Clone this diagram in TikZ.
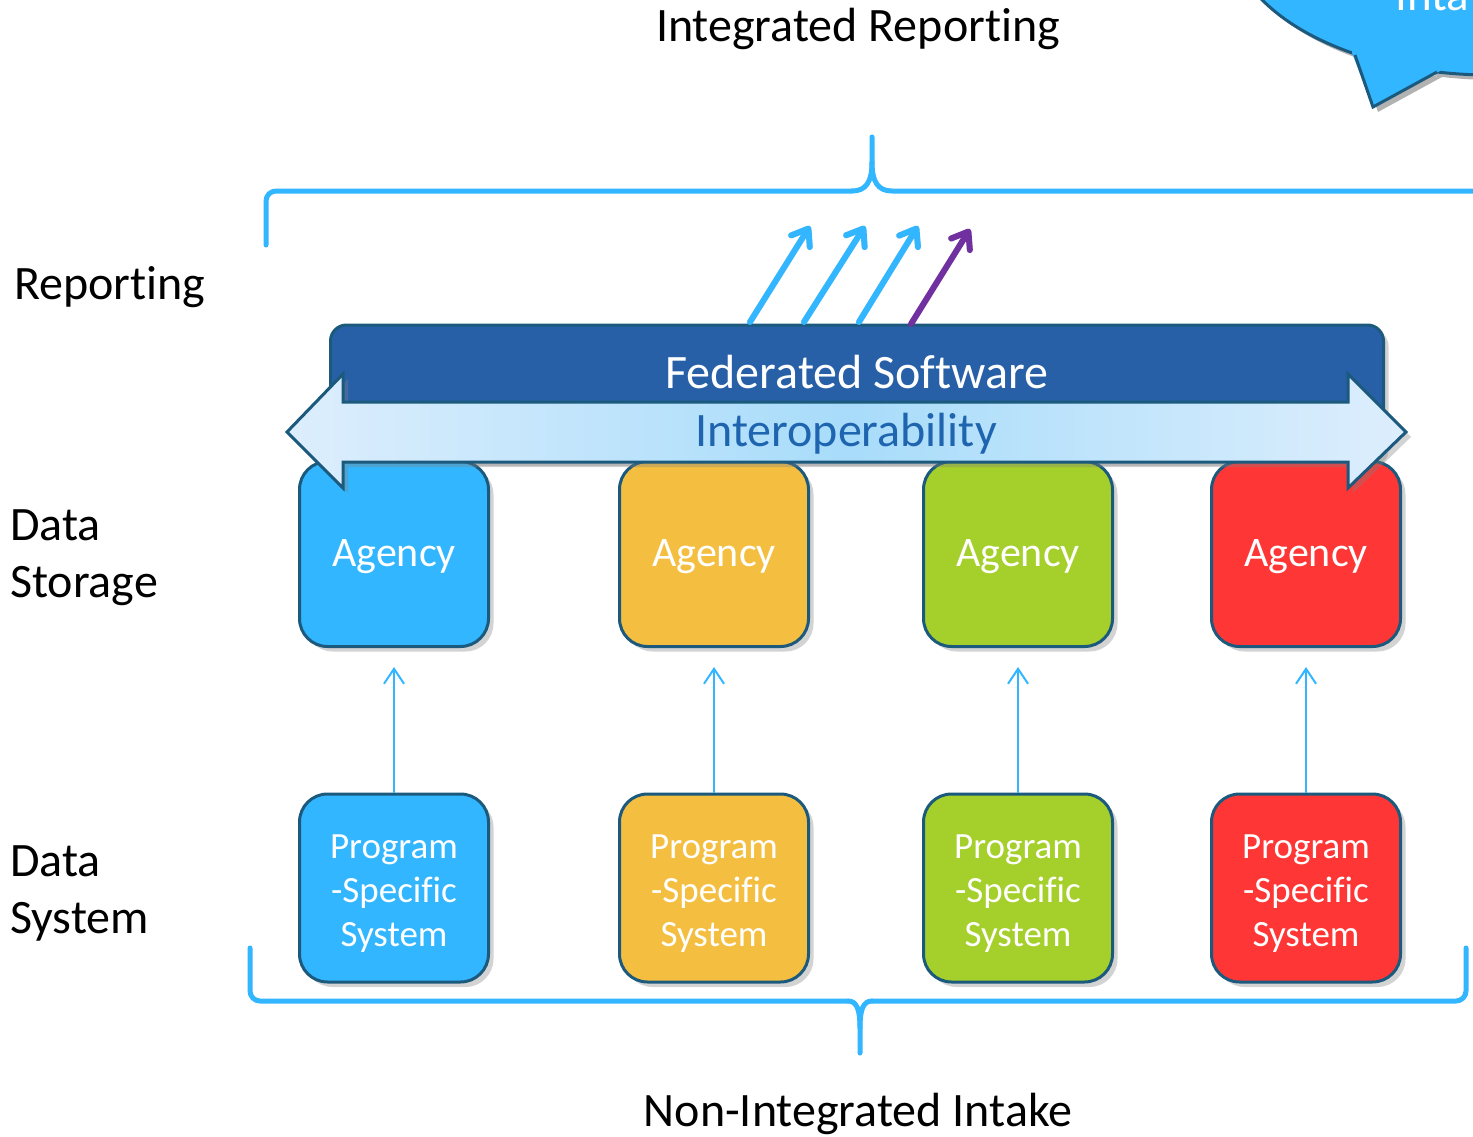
\documentclass[tikz,border=0pt]{standalone}
\usepackage{fontspec}
\setmainfont{Carlito}[Ligatures=NoCommon]
\usetikzlibrary{arrows.meta,shadows,calc}
\definecolor{cblue}{RGB}{50,182,255}
\definecolor{corange}{RGB}{244,191,64}
\definecolor{cgreen}{RGB}{165,207,42}
\definecolor{cred}{RGB}{255,54,54}
\definecolor{bord}{RGB}{28,90,125}
\definecolor{fedblue}{RGB}{40,96,168}
\definecolor{cpurple}{RGB}{112,48,160}
\definecolor{interotext}{RGB}{30,100,175}
\definecolor{arrlight}{RGB}{221,238,253}
\definecolor{arrmid}{RGB}{168,220,250}
\begin{document}
\begin{tikzpicture}[x=1pt,y=-1pt,
  shadowed/.style={drop shadow={opacity=0.35,shadow xshift=5pt,shadow yshift=-5pt}},
  box/.style={draw=bord,line width=3pt,rounded corners=28pt,minimum width=189pt,inner sep=0pt,text=white,shadowed},
  agencybox/.style={box,minimum height=185pt,font=\fontsize{42}{50}\selectfont,text height=32pt,text depth=8pt},
  progbox/.style={box,minimum height=188pt,align=center,font=\fontsize{37}{44}\selectfont,text height=124pt,text depth=7pt},
  sidelabel/.style={anchor=base west,font=\fontsize{48}{57}\selectfont,inner sep=0pt},
  titlelabel/.style={anchor=base,font=\fontsize{48}{57}\selectfont,inner sep=0pt},
  brace/.style={draw=cblue,line width=5pt,line cap=round,line join=round},
  feedarrow/.style={draw=cblue,line width=2pt,-{Straight Barb[length=15pt,width=20pt]},shorten >=19pt},
  outarrow/.style={line width=6pt,line cap=round,-{Straight Barb[length=15pt,width=22pt,round]}}
]
\useasboundingbox (0,0) rectangle (1473,1137);

% callout (top right, cut off)
\begin{scope}
\clip (0,0) rectangle (1473,1137);
\fill[black,opacity=0.3,shift={(5,5)}] (1490,-70) ellipse [x radius=260,y radius=145]
  (1355,55) -- (1373,107) -- (1437,72) -- cycle;
\draw[bord,line width=3pt,fill=cblue] (1490,-70) ellipse [x radius=260,y radius=145];
\fill[cblue] (1352,53) -- (1373,107) -- (1440,71) -- (1440,55) -- (1352,40) -- cycle;
\draw[bord,line width=3pt,line join=miter] (1355,55) -- (1373,107) -- (1437,72);
\node[anchor=base west,inner sep=0pt,text=white,font=\fontsize{47}{57}\selectfont] (callout) at (1395,11) {Inta};
\end{scope}

% braces
\draw[brace,rounded corners=10pt] (266,245) -- (266,191) -- (852,191);
\draw[brace] (852,191) .. controls (866,191) and (872,182) .. (872,162) -- (872,137);
\draw[brace] (872,162) .. controls (872,182) and (878,191) .. (892,191) -- (1480,191);
\draw[brace,rounded corners=10pt] (848,1001) -- (250,1001) -- (250,948);
\draw[brace] (848,1001) .. controls (857,1001) and (860,1010) .. (860,1028) -- (860,1053);
\draw[brace] (860,1028) .. controls (860,1010) and (863,1001) .. (872,1001);
\draw[brace,rounded corners=10pt] (872,1001) -- (1466,1001) -- (1466,948);

% titles
\node[titlelabel] (tint) at (858,42) {Integrated Reporting};
\node[titlelabel] (tnon) at (858,1126) {Non-Integrated Intake};
\node[sidelabel] (lrep) at (14,299) {Reporting};
\node[sidelabel] (lds1) at (10,540) {Data};
\node[sidelabel] (lds2) at (10,597) {Storage};
\node[sidelabel] (lsy1) at (10,876) {Data};
\node[sidelabel] (lsy2) at (10,933) {System};

% federated bar
\node[draw=bord,line width=3pt,fill=fedblue,rounded corners=16pt,minimum width=1053pt,minimum height=136pt,shadowed] (fed) at (857,393) {};

% outgoing arrows
\coordinate (s1) at (750,322); \coordinate (e1) at (810,226);
\coordinate (s2) at (804,322); \coordinate (e2) at (865,226);
\coordinate (s3) at (859,322); \coordinate (e3) at (918,226);
\coordinate (s4) at (911,324); \coordinate (e4) at (970,229);
\begin{scope}[shift={(4,4)},opacity=0.15]
\draw[outarrow,black] (s1) -- (e1);
\draw[outarrow,black] (s2) -- (e2);
\draw[outarrow,black] (s3) -- (e3);
\draw[outarrow,black] (s4) -- (e4);
\end{scope}
\draw[outarrow,cblue] (s1) -- (e1);
\draw[outarrow,cblue] (s2) -- (e2);
\draw[outarrow,cblue] (s3) -- (e3);
\draw[outarrow,cpurple] (s4) -- (e4);

% agency boxes
\node[agencybox,fill=cblue] (a1) at (394,554) {Agency};
\node[agencybox,fill=corange] (a2) at (714,554) {Agency};
\node[agencybox,fill=cgreen] (a3) at (1018,554) {Agency};
\node[agencybox,fill=cred] (a4) at (1306,554) {Agency};

% program boxes
\node[progbox,fill=cblue] (p1) at (394,888) {Program\\-Specific\\System};
\node[progbox,fill=corange] (p2) at (714,888) {Program\\-Specific\\System};
\node[progbox,fill=cgreen] (p3) at (1018,888) {Program\\-Specific\\System};
\node[progbox,fill=cred] (p4) at (1306,888) {Program\\-Specific\\System};

\draw[feedarrow] (p1) -- (a1);
\draw[feedarrow] (p2) -- (a2);
\draw[feedarrow] (p3) -- (a3);
\draw[feedarrow] (p4) -- (a4);

% interoperability double arrow
\path[draw=bord,line width=3pt,line join=miter,left color=arrlight,right color=arrlight,middle color=arrmid,shadowed]
  (287,432) -- (343,374) -- (343,402) -- (1348,402) -- (1348,374) -- (1406,432)
  -- (1348,488) -- (1348,462) -- (343,462) -- (343,488) -- cycle;

\node[titlelabel,text=white] (fedlabel) at (857,388) {Federated Software};
\node[titlelabel,text=interotext] (inter) at (846,446) {Interoperability};
\end{tikzpicture}
\end{document}
